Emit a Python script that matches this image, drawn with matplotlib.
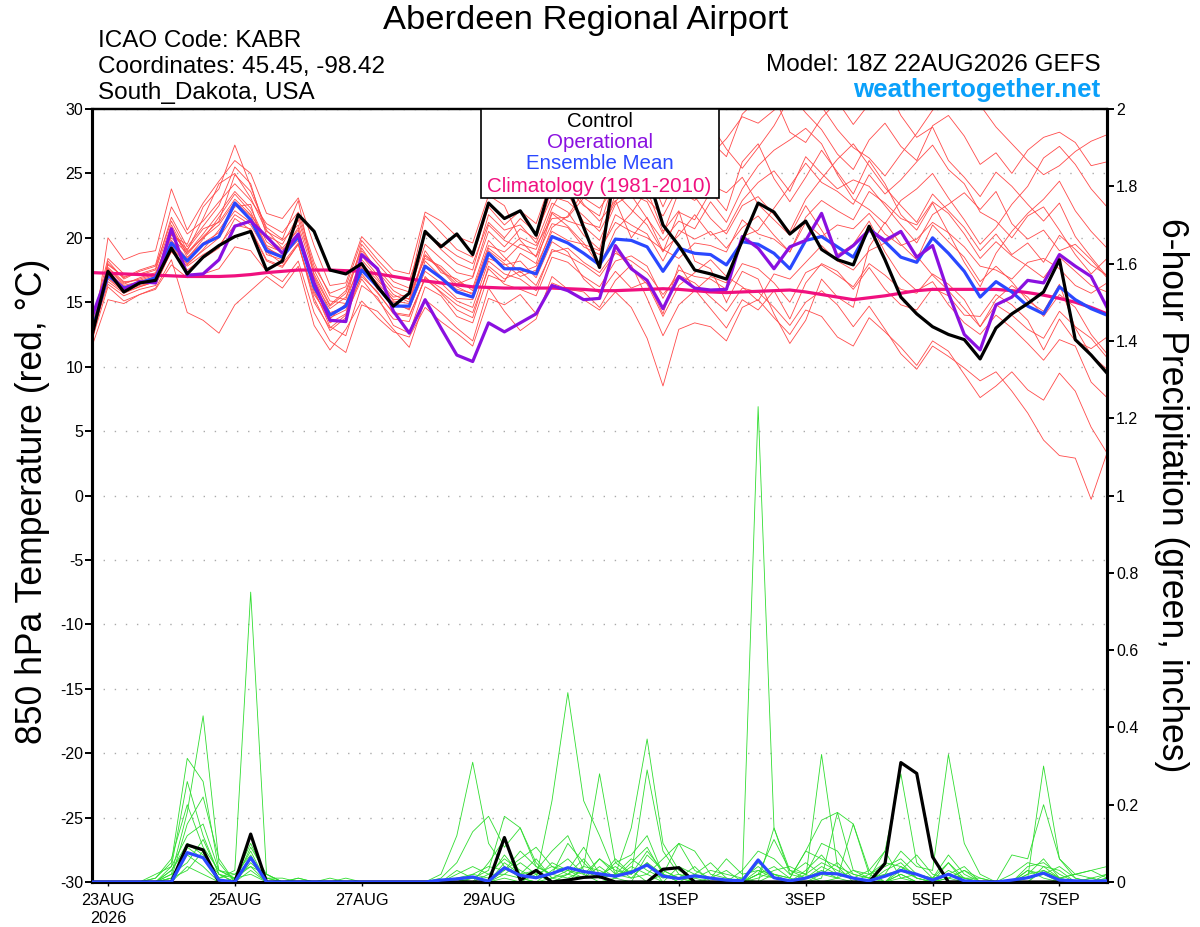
import matplotlib
matplotlib.use("Agg")
import matplotlib.pyplot as plt
import pandas as pd
from matplotlib.patches import Rectangle

plt.rcParams['font.family'] = ['Liberation Sans', 'DejaVu Sans']

# 6-hourly valid times of the GEFS run
times = pd.date_range("2026-08-22 18:00", periods=65, freq="6h")

tick_dates = pd.to_datetime(["2026-08-23", "2026-08-25", "2026-08-27", "2026-08-29",
                             "2026-09-01", "2026-09-03", "2026-09-05", "2026-09-07"])
tick_labels = ["23AUG\n2026", "25AUG", "27AUG", "29AUG", "1SEP", "3SEP", "5SEP", "7SEP"]

temp_ticks = [30, 25, 20, 15, 10, 5, 0, -5, -10, -15, -20, -25, -30]
precip_ticks = [0, 0.2, 0.4, 0.6, 0.8, 1.0, 1.2, 1.4, 1.6, 1.8, 2.0]
precip_labels = ["0", "0.2", "0.4", "0.6", "0.8", "1", "1.2", "1.4", "1.6", "1.8", "2"]

# 850 hPa temperature (C)
control_t = [12.5, 17.4, 15.8, 16.5, 16.7, 19.2, 17.2, 18.5, 19.4, 20.1, 20.5, 17.5, 18.2,
             21.8, 20.5, 17.5, 17.2, 18.0, 16.2, 14.7, 15.7, 20.5, 19.3, 20.3, 18.7, 22.7,
             21.5, 22.1, 20.2, 24.5, 24.0, 20.8, 17.7, 25.5, 26.0, 25.0, 21.0, 19.4, 17.5,
             17.2, 16.8, 19.8, 22.7, 22.0, 20.3, 21.3, 19.1, 18.3, 17.9, 20.9, 18.3, 15.4,
             14.1, 13.1, 12.5, 12.1, 10.6, 13.0, 14.1, 14.9, 15.8, 18.3, 12.1, 10.9, 9.5]
oper_t = [13.9, 17.3, 16.0, 16.6, 16.5, 20.7, 17.1, 17.2, 18.3, 20.9, 21.3, 20.1, 18.8,
          20.3, 16.5, 13.6, 13.5, 18.7, 17.6, 14.3, 12.6, 15.2, 13.0, 10.9, 10.4, 13.4,
          12.7, 13.4, 14.1, 16.3, 15.9, 15.2, 15.3, 19.4, 17.6, 16.7, 14.5, 17.0, 16.1,
          15.95, 16.0, 20.1, 19.2, 17.6, 19.3, 19.8, 21.9, 18.5, 19.4, 20.6, 19.8, 20.5,
          18.5, 19.4, 15.7, 12.5, 11.3, 14.8, 15.4, 16.7, 16.5, 18.7, 17.8, 17.0, 14.6]
mean_t = [12.8, 17.1, 16.1, 16.5, 16.9, 19.6, 18.2, 19.5, 20.1, 22.7, 21.4, 19.0, 18.5,
          20.1, 16.2, 14.0, 14.7, 17.5, 16.2, 14.7, 14.7, 17.8, 16.9, 15.8, 15.4, 18.8,
          17.6, 17.6, 17.2, 20.1, 19.6, 18.8, 17.9, 19.9, 19.8, 19.3, 17.4, 19.2, 18.8,
          18.7, 17.9, 19.7, 19.5, 18.8, 17.6, 19.8, 20.1, 19.3, 18.5, 20.7, 19.7, 18.5,
          18.1, 20.0, 18.8, 17.4, 15.4, 16.6, 15.8, 14.7, 14.1, 16.2, 15.2, 14.5, 14.0]
climo_t = [17.3, 17.25, 17.2, 17.15, 17.1, 17.05, 17.0, 17.0, 17.0, 17.05, 17.15, 17.3, 17.4,
           17.5, 17.5, 17.5, 17.45, 17.4, 17.2, 17.0, 16.8, 16.65, 16.5, 16.35, 16.2, 16.15,
           16.1, 16.1, 16.1, 16.1, 16.05, 16.0, 15.9, 15.9, 15.95, 16.0, 16.05, 16.0, 15.9,
           15.8, 15.75, 15.8, 15.85, 15.9, 15.95, 15.8, 15.6, 15.4, 15.2, 15.35, 15.5, 15.7,
           15.9, 16.0, 16.0, 16.0, 16.0, 16.0, 15.9, 15.75, 15.55, 15.3, 15.0, 14.6, 14.1]

# ensemble members, 850 hPa temperature
mem_t01 = [12.0, 18.2, 16.8, 17.4, 17.8, 21.3, 19.0, 21.5, 24.2, 25.0, 23.1, 20.5, 19.8, 21.0, 17.2, 14.8, 15.9, 19.2, 17.4, 15.9, 15.2, 20.6, 19.1, 18.0, 17.5, 21.8, 20.6, 21.0, 19.6, 22.7, 22.0, 20.2, 19.1, 23.5, 22.2, 21.0, 18.9, 22.0, 21.4, 23.6, 22.1, 25.9, 27.3, 24.6, 22.8, 24.7, 26.8, 25.1, 23.4, 26.0, 24.2, 21.8, 20.6, 22.7, 20.4, 18.1, 16.2, 18.8, 20.5, 21.9, 23.0, 24.4, 22.1, 20.5, 19.2]
mem_t02 = [11.6, 15.2, 14.9, 15.6, 16.1, 18.3, 14.2, 13.6, 12.6, 14.8, 15.9, 17.0, 16.1, 17.8, 13.2, 11.3, 12.9, 15.1, 13.8, 12.7, 12.3, 14.6, 13.5, 12.6, 11.6, 15.3, 14.8, 15.6, 14.1, 16.5, 16.0, 15.2, 14.4, 15.8, 14.6, 12.2, 8.5, 12.9, 13.4, 13.1, 12.0, 14.6, 15.2, 13.8, 12.5, 14.4, 13.9, 12.3, 11.6, 13.8, 12.7, 11.5, 10.1, 12.0, 11.2, 9.4, 7.6, 8.5, 9.6, 8.2, 7.4, 9.5, 8.1, 5.3, 3.3]
mem_t03 = [12.4, 17.5, 16.4, 16.9, 17.3, 20.2, 19.5, 22.4, 23.8, 27.2, 24.0, 20.6, 19.2, 20.6, 15.8, 13.4, 14.1, 18.3, 16.9, 15.1, 14.9, 18.7, 17.6, 16.4, 16.9, 20.5, 19.3, 20.7, 19.9, 23.9, 23.4, 21.2, 20.8, 24.8, 25.5, 26.2, 24.9, 28.1, 30.5, 27.5, 26.3, 29.6, 30.8, 31.0, 28.2, 27.4, 29.3, 30.6, 28.8, 30.4, 32.0, 29.5, 27.8, 28.6, 26.0, 24.7, 23.2, 25.1, 24.0, 22.6, 21.3, 22.7, 20.1, 18.5, 17.0]
mem_t04 = [13.1, 16.6, 15.7, 16.2, 16.6, 18.9, 17.8, 18.7, 19.4, 21.0, 20.7, 18.3, 17.8, 19.5, 15.6, 13.8, 14.4, 17.0, 15.8, 14.1, 13.9, 16.9, 16.1, 15.1, 14.6, 18.2, 17.2, 16.8, 15.9, 19.1, 18.6, 17.9, 17.0, 18.8, 18.2, 17.3, 15.6, 17.1, 16.5, 15.4, 14.3, 16.1, 15.8, 14.6, 13.2, 15.0, 15.9, 14.8, 13.1, 14.7, 12.9, 11.0, 9.8, 11.6, 10.8, 9.9, 8.9, 9.6, 8.1, 6.4, 4.3, 3.1, 2.9, -0.3, 3.3]
mem_t05 = [12.9, 18.0, 16.9, 17.5, 17.9, 22.4, 20.3, 21.3, 22.8, 24.2, 22.9, 21.1, 20.4, 22.0, 18.1, 15.5, 15.2, 19.5, 18.0, 16.6, 16.1, 21.7, 20.4, 19.1, 18.5, 22.4, 21.0, 22.1, 21.1, 24.6, 23.8, 22.5, 21.7, 25.9, 26.6, 25.3, 22.4, 25.2, 24.0, 26.4, 27.7, 29.4, 28.9, 29.9, 31.2, 29.7, 28.4, 26.5, 25.3, 27.6, 28.9, 27.1, 26.0, 28.7, 29.5, 27.9, 25.7, 26.6, 25.0, 26.8, 27.8, 28.2, 27.4, 25.6, 25.9]
mem_t06 = [12.6, 16.4, 15.5, 16.0, 16.3, 19.0, 17.5, 18.4, 19.2, 21.5, 20.6, 18.2, 17.7, 19.5, 15.3, 12.8, 13.8, 17.2, 15.7, 14.2, 14.0, 16.8, 15.8, 14.8, 14.2, 17.6, 16.4, 16.0, 15.5, 18.5, 18.1, 17.0, 16.2, 18.2, 18.6, 17.8, 15.3, 17.5, 17.0, 16.8, 16.0, 18.0, 17.6, 16.5, 15.0, 17.3, 17.9, 17.1, 16.2, 18.0, 17.1, 16.0, 15.7, 17.2, 16.4, 15.2, 13.1, 14.8, 14.0, 12.9, 12.2, 14.3, 13.1, 12.2, 10.7]
mem_t07 = [11.8, 20.0, 18.3, 18.8, 19.0, 23.8, 20.6, 22.7, 24.4, 26.0, 25.0, 21.9, 21.5, 23.1, 19.4, 16.3, 16.5, 20.1, 18.8, 17.5, 17.2, 22.0, 21.3, 20.1, 19.6, 23.3, 22.5, 19.8, 18.5, 21.1, 20.8, 19.3, 18.7, 21.8, 21.0, 20.3, 18.2, 20.6, 19.9, 20.5, 19.2, 20.8, 21.7, 20.2, 18.9, 21.6, 22.9, 22.1, 21.4, 23.6, 22.7, 21.5, 21.0, 22.8, 21.9, 20.3, 18.4, 19.7, 18.6, 17.8, 16.9, 18.5, 17.4, 16.3, 15.8]
mem_t08 = [12.3, 17.0, 16.0, 16.4, 16.8, 19.8, 18.4, 19.9, 21.6, 23.4, 22.0, 19.4, 18.9, 20.8, 16.0, 13.1, 12.4, 16.3, 15.4, 13.2, 12.6, 16.2, 15.5, 13.9, 13.4, 17.1, 16.6, 18.8, 18.0, 21.9, 20.9, 19.6, 17.8, 20.6, 21.9, 23.7, 20.5, 22.1, 18.2, 17.6, 15.0, 17.4, 16.8, 14.1, 11.8, 13.6, 16.8, 15.4, 14.6, 19.3, 21.2, 19.5, 18.3, 21.0, 19.7, 18.5, 16.6, 17.8, 16.6, 15.1, 14.3, 16.4, 13.0, 10.9, 9.8]
mem_t09 = [12.7, 17.7, 16.6, 16.7, 17.1, 20.3, 19.1, 20.7, 21.2, 23.0, 21.8, 20.0, 19.1, 19.9, 16.6, 14.5, 15.4, 18.0, 16.7, 15.4, 15.6, 18.4, 17.8, 16.6, 16.1, 19.8, 18.5, 17.3, 17.8, 20.5, 19.8, 19.5, 19.0, 21.2, 20.5, 20.0, 19.1, 18.4, 19.6, 19.4, 18.9, 21.4, 20.3, 19.9, 18.9, 21.2, 20.1, 21.0, 20.7, 21.9, 20.3, 19.4, 19.9, 21.2, 20.4, 19.3, 17.8, 17.5, 16.8, 18.1, 18.4, 17.6, 16.3, 15.7, 16.5]
mem_t10 = [12.1, 16.2, 15.1, 15.6, 16.0, 17.9, 16.9, 17.2, 17.6, 19.3, 19.0, 17.4, 16.6, 18.2, 14.2, 12.0, 11.1, 14.8, 14.3, 12.9, 11.5, 15.2, 14.2, 13.0, 12.0, 16.1, 14.3, 12.8, 13.7, 17.0, 16.0, 15.8, 14.6, 16.7, 17.9, 15.3, 12.4, 14.8, 15.9, 17.0, 16.5, 20.1, 20.6, 22.3, 24.0, 25.8, 24.3, 23.6, 22.6, 24.9, 23.4, 24.5, 25.9, 27.2, 25.3, 24.2, 22.0, 21.3, 20.0, 21.7, 22.4, 20.6, 18.7, 17.2, 18.4]
mem_t11 = [13.4, 18.4, 17.2, 17.1, 17.5, 21.0, 18.7, 20.1, 21.3, 24.9, 23.6, 20.8, 19.9, 22.9, 17.0, 14.7, 15.7, 19.0, 17.6, 16.2, 15.8, 19.5, 18.4, 17.3, 17.0, 21.0, 19.8, 19.2, 18.6, 22.0, 21.3, 20.9, 19.8, 22.6, 23.4, 22.8, 20.3, 23.6, 22.9, 24.1, 23.5, 24.7, 22.6, 21.4, 20.2, 22.5, 20.6, 18.7, 19.5, 21.3, 18.9, 17.0, 15.9, 16.6, 14.8, 13.4, 12.5, 14.0, 13.0, 11.8, 10.5, 12.1, 11.6, 8.8, 7.6]
mem_t12 = [12.2, 16.9, 15.9, 16.3, 16.6, 19.4, 17.9, 19.1, 20.6, 22.4, 22.6, 18.7, 18.3, 20.3, 16.3, 13.7, 14.9, 17.6, 16.4, 14.8, 14.5, 17.4, 16.5, 15.3, 15.2, 18.4, 17.9, 18.2, 16.9, 19.7, 18.9, 16.8, 15.7, 17.4, 16.1, 16.6, 14.1, 17.9, 16.0, 14.5, 13.0, 15.2, 14.4, 15.9, 13.7, 16.5, 18.0, 17.4, 16.0, 17.7, 16.0, 14.8, 14.4, 16.1, 15.5, 14.0, 13.9, 15.6, 14.8, 13.6, 11.3, 13.7, 12.0, 11.4, 12.3]
mem_t13 = [12.5, 17.3, 16.3, 16.6, 17.0, 20.8, 18.5, 19.6, 20.4, 22.1, 21.2, 19.2, 18.6, 19.8, 16.9, 14.2, 14.6, 17.9, 16.0, 15.0, 14.4, 18.2, 17.0, 16.0, 15.7, 19.2, 18.2, 19.5, 19.1, 22.3, 24.5, 22.6, 21.3, 22.9, 20.0, 21.6, 19.0, 20.2, 21.8, 20.2, 20.6, 22.9, 24.3, 25.2, 23.6, 26.3, 25.0, 23.8, 24.5, 24.0, 22.5, 21.0, 19.6, 21.8, 22.6, 23.5, 22.2, 23.6, 21.1, 19.9, 20.6, 19.0, 19.5, 18.3, 16.9]
mem_t14 = [12.9, 17.6, 16.5, 16.8, 17.2, 20.0, 18.8, 20.3, 21.9, 23.6, 22.3, 19.7, 18.8, 21.4, 17.5, 15.1, 14.9, 18.6, 17.1, 15.6, 15.0, 19.0, 17.3, 16.8, 15.9, 19.4, 18.9, 20.0, 19.4, 21.5, 21.6, 23.1, 22.3, 24.0, 23.3, 21.5, 19.8, 21.3, 20.7, 22.8, 21.2, 23.8, 25.6, 26.8, 27.6, 28.5, 27.3, 24.9, 23.0, 22.2, 21.1, 22.9, 23.8, 25.0, 23.1, 21.4, 19.5, 20.8, 22.6, 24.0, 26.2, 27.1, 25.7, 23.8, 22.4]
mem_t15 = [12.4, 16.8, 15.8, 16.2, 16.6, 19.2, 18.0, 19.0, 20.0, 21.8, 21.0, 18.9, 18.0, 19.6, 15.0, 13.0, 14.0, 16.8, 15.2, 13.7, 13.5, 17.0, 15.7, 14.4, 13.8, 17.8, 16.8, 17.4, 16.3, 18.9, 19.2, 18.1, 17.3, 19.0, 17.6, 16.4, 13.9, 16.3, 17.3, 18.3, 17.0, 16.2, 15.1, 17.2, 16.8, 18.1, 19.4, 18.2, 17.5, 19.0, 19.6, 20.4, 18.6, 17.1, 15.9, 14.5, 13.1, 15.2, 16.3, 15.4, 13.9, 15.6, 14.6, 12.5, 11.0]
mem_t16 = [13.2, 17.9, 17.0, 17.2, 17.6, 21.6, 19.3, 20.9, 22.5, 25.5, 24.2, 20.2, 19.5, 21.7, 17.8, 15.7, 16.2, 19.8, 18.3, 17.0, 16.7, 20.3, 19.5, 18.6, 18.0, 21.2, 20.0, 21.5, 20.4, 23.2, 22.8, 21.7, 20.5, 22.8, 24.3, 23.0, 21.7, 24.0, 23.2, 21.5, 20.3, 22.5, 23.2, 21.8, 20.5, 23.0, 24.6, 26.1, 27.3, 25.6, 23.9, 22.5, 21.2, 23.4, 22.1, 20.8, 19.0, 20.3, 18.7, 19.6, 18.1, 20.2, 19.1, 17.9, 17.1]
mem_t17 = [12.0, 17.1, 16.2, 16.5, 16.9, 20.5, 18.9, 20.0, 21.0, 22.8, 21.7, 19.3, 18.4, 20.0, 16.4, 14.0, 14.8, 17.7, 16.5, 15.2, 15.3, 18.6, 17.5, 16.2, 15.6, 19.0, 18.0, 17.0, 17.5, 20.8, 21.7, 23.6, 25.4, 27.0, 27.8, 26.2, 28.3, 29.5, 30.6, 28.8, 26.9, 25.4, 27.0, 28.7, 30.9, 31.5, 30.2, 28.4, 27.0, 26.2, 24.8, 26.5, 28.1, 29.9, 31.0, 32.0, 30.3, 28.6, 27.3, 26.0, 24.9, 25.6, 26.7, 27.5, 28.0]

temp_members = [mem_t01, mem_t02, mem_t03, mem_t04, mem_t05, mem_t06, mem_t07, mem_t08, mem_t09,
                mem_t10, mem_t11, mem_t12, mem_t13, mem_t14, mem_t15, mem_t16, mem_t17]

# 6-hour precipitation (inches)
control_p = [0, 0, 0, 0, 0, 0, 0.096, 0.083, 0, 0, 0.124, 0, 0,
             0, 0, 0, 0, 0, 0, 0, 0, 0, 0, 0, 0, 0,
             0.115, 0.005, 0.03, 0, 0.005, 0.012, 0.014, 0, 0, 0, 0.033, 0.037, 0,
             0, 0, 0, 0, 0, 0, 0, 0, 0, 0, 0, 0.048, 0.309,
             0.281, 0.065, 0, 0, 0, 0, 0, 0, 0, 0, 0, 0, 0]
mean_p = [0, 0, 0, 0, 0, 0, 0.076, 0.063, 0.005, 0, 0.063, 0, 0,
          0, 0, 0, 0, 0, 0, 0, 0, 0, 0.005, 0.008, 0.013, 0.002,
          0.037, 0.017, 0.011, 0.022, 0.037, 0.027, 0.021, 0.015, 0.025, 0.044, 0.015, 0.009, 0.016,
          0.01, 0.005, 0.003, 0.057, 0.011, 0.003, 0.01, 0.023, 0.021, 0.01, 0.003, 0.015, 0.03,
          0.02, 0.005, 0.02, 0.003, 0, 0, 0.005, 0.011, 0.023, 0.005, 0.003, 0.002, 0.003]

mem_p01 = [0, 0, 0, 0, 0, 0.03, 0.09, 0.06, 0.01, 0.03, 0.75, 0.02, 0,
           0, 0, 0, 0, 0, 0, 0, 0, 0, 0.02, 0.12, 0.31, 0.10,
           0.04, 0.01, 0, 0.03, 0.06, 0.02, 0, 0.01, 0.04, 0.02, 0, 0, 0,
           0, 0, 0, 0.03, 0.01, 0, 0, 0.02, 0.05, 0.01, 0, 0, 0.04,
           0.01, 0, 0, 0, 0, 0, 0, 0, 0, 0, 0, 0, 0]
mem_p02 = [0, 0, 0, 0, 0, 0.02, 0.18, 0.43, 0.05, 0, 0.06, 0.01, 0,
           0, 0, 0, 0, 0, 0, 0, 0, 0, 0, 0, 0.01, 0.03,
           0.17, 0.14, 0.05, 0.01, 0, 0.04, 0.28, 0.05, 0.02, 0.08, 0.03, 0.01, 0,
           0, 0, 0, 0, 0.14, 0.03, 0.01, 0.33, 0.04, 0, 0, 0, 0.02,
           0, 0, 0.05, 0.01, 0, 0, 0, 0, 0.03, 0.01, 0, 0, 0]
mem_p03 = [0, 0, 0, 0, 0.01, 0.05, 0.32, 0.26, 0.03, 0.01, 0.04, 0, 0,
           0, 0, 0, 0, 0, 0, 0, 0, 0, 0, 0.03, 0.01, 0,
           0.05, 0.02, 0.01, 0.21, 0.49, 0.21, 0.12, 0.02, 0.03, 0, 0.02, 0.01, 0,
           0, 0, 0.01, 0, 0.02, 0.01, 0.08, 0.16, 0.18, 0.15, 0.03, 0, 0.01,
           0.02, 0, 0.01, 0, 0, 0, 0, 0.02, 0.06, 0.01, 0, 0, 0]
mem_p04 = [0, 0, 0, 0, 0, 0.04, 0.26, 0.12, 0.02, 0, 0.05, 0.01, 0,
           0.01, 0, 0, 0, 0, 0, 0, 0, 0, 0, 0, 0, 0.02,
           0.06, 0.03, 0.01, 0.05, 0.03, 0.01, 0.06, 0.02, 0.01, 0.05, 0.02, 0, 0,
           0, 0, 0, 1.23, 0.14, 0.02, 0.01, 0.04, 0.02, 0.01, 0, 0.03, 0.05,
           0.01, 0, 0.02, 0.01, 0, 0, 0, 0.03, 0.02, 0, 0, 0, 0]
mem_p05 = [0, 0, 0, 0, 0, 0.03, 0.10, 0.07, 0.02, 0.01, 0.08, 0, 0,
           0, 0, 0, 0, 0, 0, 0, 0, 0, 0, 0, 0.02, 0.04,
           0.03, 0.08, 0.04, 0.02, 0.10, 0.05, 0.01, 0.02, 0.14, 0.37, 0.10, 0.03, 0.01,
           0, 0, 0, 0.02, 0.01, 0, 0.02, 0.05, 0.03, 0.01, 0, 0.02, 0.08,
           0.04, 0.03, 0.33, 0.10, 0.02, 0, 0, 0.01, 0.30, 0.06, 0.01, 0, 0.02]
mem_p06 = [0, 0, 0, 0, 0.01, 0.06, 0.20, 0.09, 0.03, 0.02, 0.04, 0.02, 0,
           0, 0, 0, 0, 0, 0, 0, 0, 0, 0.01, 0.05, 0.13, 0.17,
           0.09, 0.14, 0.04, 0.02, 0.01, 0.03, 0.01, 0.06, 0.02, 0.29, 0.08, 0.02, 0,
           0.01, 0.06, 0.02, 0.03, 0.02, 0.01, 0.08, 0.06, 0.04, 0.02, 0.01, 0.08, 0.28,
           0.05, 0.01, 0.07, 0.02, 0, 0, 0.07, 0.06, 0.20, 0.06, 0.02, 0.03, 0.04]
mem_p07 = [0, 0, 0, 0, 0, 0.01, 0.07, 0.04, 0, 0, 0.03, 0, 0,
           0, 0, 0, 0, 0, 0, 0, 0, 0, 0, 0, 0, 0,
           0.02, 0.01, 0, 0.01, 0.02, 0.04, 0.03, 0.01, 0.05, 0.09, 0.02, 0.10, 0.03,
           0.01, 0, 0, 0.02, 0.04, 0.01, 0, 0.01, 0.18, 0.03, 0.01, 0, 0.02,
           0, 0, 0.01, 0.03, 0.01, 0, 0, 0.04, 0.05, 0.02, 0, 0.01, 0]
mem_p08 = [0, 0, 0, 0, 0.02, 0.04, 0.12, 0.15, 0.03, 0.01, 0.10, 0.01, 0.01,
           0, 0, 0.01, 0, 0, 0, 0, 0, 0, 0, 0.01, 0.02, 0.01,
           0.07, 0.02, 0.06, 0.01, 0.03, 0.09, 0.02, 0.04, 0.01, 0.02, 0.06, 0.10, 0.08,
           0.02, 0.01, 0, 0.05, 0.02, 0, 0.01, 0.03, 0.01, 0.15, 0.02, 0, 0.03,
           0.01, 0, 0.02, 0.04, 0, 0, 0, 0.02, 0.03, 0.01, 0.02, 0.01, 0.02]
mem_p09 = [0, 0, 0, 0, 0, 0.02, 0.05, 0.11, 0.02, 0, 0.06, 0, 0,
           0, 0, 0, 0, 0, 0, 0, 0, 0, 0, 0.02, 0.04, 0.02,
           0.02, 0.05, 0.02, 0, 0.02, 0.06, 0.01, 0.02, 0.06, 0.03, 0.01, 0.02, 0.01,
           0.03, 0.02, 0.01, 0.04, 0.01, 0, 0.03, 0.07, 0.02, 0.01, 0.03, 0.08, 0.01,
           0, 0, 0.03, 0.01, 0, 0, 0, 0, 0.04, 0.03, 0, 0.01, 0]
mem_p10 = [0, 0, 0, 0, 0, 0.01, 0.15, 0.22, 0.06, 0, 0.09, 0.02, 0,
           0.01, 0, 0, 0, 0, 0, 0, 0, 0, 0, 0, 0.01, 0,
           0.03, 0.06, 0.09, 0.04, 0.02, 0.01, 0.04, 0.01, 0, 0.07, 0.03, 0.01, 0.04,
           0, 0, 0.03, 0.08, 0.06, 0.02, 0.05, 0.02, 0.01, 0, 0.02, 0.04, 0.06,
           0.02, 0.01, 0.05, 0, 0, 0, 0, 0.03, 0.01, 0, 0, 0, 0.01]
mem_p11 = [0, 0, 0, 0, 0, 0, 0.04, 0.02, 0, 0.01, 0.02, 0, 0,
           0, 0, 0, 0, 0, 0, 0, 0, 0, 0, 0, 0, 0.05,
           0.11, 0.02, 0.03, 0.08, 0.12, 0.03, 0.01, 0.05, 0.07, 0.12, 0.02, 0, 0.02,
           0.05, 0.01, 0, 0.02, 0.11, 0.03, 0.02, 0.10, 0.08, 0.02, 0.01, 0.02, 0.03,
           0.07, 0.02, 0.01, 0.03, 0, 0, 0.02, 0.05, 0.04, 0.01, 0.02, 0.03, 0.01]
mem_p12 = [0, 0, 0, 0, 0, 0.01, 0.03, 0.08, 0.01, 0.02, 0.07, 0, 0,
           0, 0, 0, 0.01, 0, 0, 0, 0, 0, 0, 0.01, 0, 0,
           0.01, 0, 0.02, 0.04, 0.03, 0.02, 0.06, 0.03, 0.02, 0.05, 0, 0.04, 0.02,
           0.01, 0.03, 0, 0.01, 0.03, 0.04, 0.02, 0, 0.01, 0.03, 0.02, 0.05, 0.04,
           0.02, 0.01, 0.02, 0.01, 0.01, 0, 0, 0.01, 0.02, 0.04, 0.01, 0, 0.01]

precip_members = [mem_p01, mem_p02, mem_p03, mem_p04, mem_p05, mem_p06,
                  mem_p07, mem_p08, mem_p09, mem_p10, mem_p11, mem_p12]

legend_items = ["Control", "Operational", "Ensemble Mean", "Climatology (1981-2010)"]
legend_colors = ["black", "#8a10e0", "#2a48ff", "#f0107f"]

W, H = 1200, 927
fig = plt.figure(figsize=(12, 9.27), dpi=100)
x0, x1, y0, y1 = 92.1, 1107.0, 109.0, 882.0
ax = fig.add_axes([x0 / W, 1 - y1 / H, (x1 - x0) / W, (y1 - y0) / H])

for m in temp_members:
    ax.plot(times, m, color="#ff4a4a", lw=0.6, zorder=2)
ax.plot(times, climo_t, color="#f0107f", lw=2.3, zorder=3)
ax.plot(times, mean_t, color="#2a48ff", lw=2.3, zorder=4)
ax.plot(times, oper_t, color="#8a10e0", lw=2.3, zorder=5)
ax.plot(times, control_t, color="black", lw=2.3, zorder=6)

ax.set_xlim(times[0], times[-1])
ax.set_ylim(-30, 30)
ax.set_yticks(temp_ticks)
ax.set_yticklabels([str(t) for t in temp_ticks])
ax.grid(axis="y", color="#aaaaaa", linestyle=(0, (1, 7)), lw=1.0)
ax.set_xticks(tick_dates)
ax.set_xticklabels(tick_labels)
ax.tick_params(axis="x", direction="out", length=3, width=1.0, pad=5, labelsize=11.7)
ax.tick_params(axis="y", direction="out", length=5, width=1.4, pad=1.5, labelsize=11.5)

ax2 = ax.twinx()
for p in precip_members:
    ax2.plot(times, p, color="#30dd30", lw=0.6, zorder=2)
ax2.plot(times, control_p, color="black", lw=2.3, zorder=4)
ax2.plot(times, mean_p, color="#2a48ff", lw=2.3, zorder=5)
ax2.set_ylim(0, 2)
ax2.set_yticks(precip_ticks)
ax2.set_yticklabels(precip_labels)
ax2.tick_params(axis="y", direction="out", length=5, width=1.4, pad=1.5, labelsize=11.5)

for a in (ax, ax2):
    for side in ("left", "right", "bottom"):
        a.spines[side].set_linewidth(2.2)
    a.spines["top"].set_linewidth(1.6)

# legend box
bl = (480.7 - x0) / (x1 - x0)
br = (719.3 - x0) / (x1 - x0)
bb = 1 - (198.3 - y0) / (y1 - y0)
ax2.add_patch(Rectangle((bl, bb), br - bl, 1 - bb, transform=ax2.transAxes,
                        facecolor="white", edgecolor="black", lw=1.2, zorder=20, clip_on=False))
for label, col, yb in zip(legend_items, legend_colors, [126.7, 147.7, 169.3, 191.7]):
    fig.text(599.5 / W, 1 - yb / H, label, color=col, ha="center", va="baseline", fontsize=14.8)

# header texts
fig.text(586 / W, 1 - 29.3 / H, "Aberdeen Regional Airport", ha="center", va="baseline", fontsize=24.8)
fig.text(98 / W, 1 - 46.7 / H, "ICAO Code: KABR", ha="left", va="baseline", fontsize=17.5)
fig.text(98 / W, 1 - 73.3 / H, "Coordinates: 45.45, -98.42", ha="left", va="baseline", fontsize=17.5)
fig.text(98 / W, 1 - 99.3 / H, "South_Dakota, USA", ha="left", va="baseline", fontsize=17.5)
fig.text(1100.5 / W, 1 - 70.7 / H, "Model: 18Z 22AUG2026 GEFS", ha="right", va="baseline", fontsize=17.5)
fig.text(1100.5 / W, 1 - 97.3 / H, "weathertogether.net", ha="right", va="baseline",
         fontsize=18.7, fontweight="bold", color="#0aa0fa")

fig.text(33 / W, 1 - 501 / H, "850 hPa Temperature (red, °C)", rotation=90,
         ha="center", va="center", fontsize=25.6)
fig.text(1171 / W, 1 - 495 / H, "6-hour Precipitation (green, inches)", rotation=270,
         ha="center", va="center", fontsize=25.6)

fig.savefig("out.png", dpi=100)
